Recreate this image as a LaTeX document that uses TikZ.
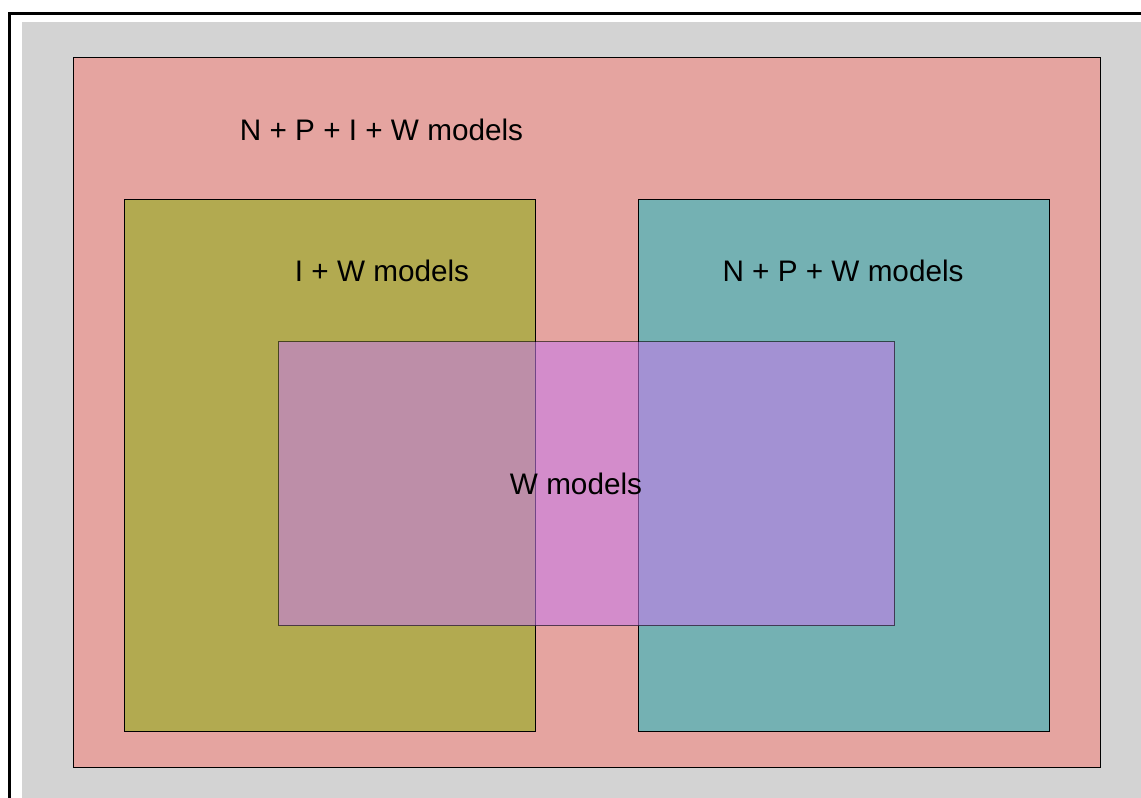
\documentclass[tikz,border=0pt]{standalone}
\usepackage{fontspec}
\setmainfont{Liberation Sans}
\definecolor{bggray}{RGB}{211,211,211}
\definecolor{pinkbox}{RGB}{229,164,160}
\definecolor{olivebox}{RGB}{178,170,80}
\definecolor{tealbox}{RGB}{116,177,179}
\definecolor{wbox}{RGB}{199,122,236}
\begin{document}
\begin{tikzpicture}[x=1pt,y=-1pt,
  setbox/.style={draw=black,line width=1pt},
  lbl/.style={font=\fontsize{29.7}{32}\selectfont,text=black,inner sep=0pt,anchor=center}]
\useasboundingbox (0,0) rectangle (1141,798);
\fill[white] (0,0) rectangle (1141,798);
\draw[line width=3pt] (9,820) -- (9,13) -- (1160,13);
\fill[bggray] (22,22) rectangle (1160,820);
\node[setbox,fill=pinkbox,minimum width=1027pt,minimum height=710pt,anchor=north west,inner sep=0pt] (npiw) at (73,57) {};
\node[setbox,fill=olivebox,minimum width=411pt,minimum height=532pt,anchor=north west,inner sep=0pt] (iw) at (124,199) {};
\node[setbox,fill=tealbox,minimum width=411pt,minimum height=532pt,anchor=north west,inner sep=0pt] (npw) at (638,199) {};
\node[draw=black,draw opacity=0.6,line width=1pt,fill=wbox,fill opacity=0.57,minimum width=616pt,minimum height=284pt,anchor=north west,inner sep=0pt] (w) at (278,341) {};
\node[lbl] (tnpiw) at (381.5,130) {N + P + I + W models};
\node[lbl] (tiw) at (382,271) {I + W models};
\node[lbl] (tnpw) at (843,271) {N + P + W models};
\node[lbl] (tw) at (576,484) {W models};
\end{tikzpicture}
\end{document}
